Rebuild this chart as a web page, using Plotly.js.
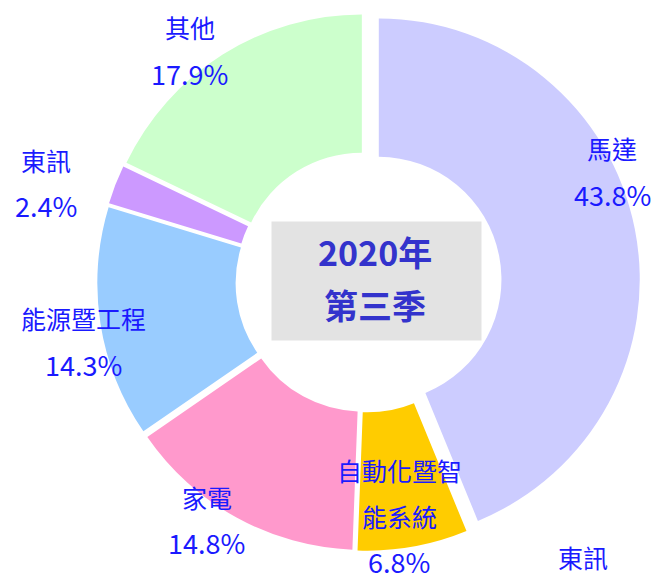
<!DOCTYPE html>
<html>
<head>
<meta charset="utf-8">
<script src="https://cdn.plot.ly/plotly-3.0.1.min.js"></script>
<style>
  html, body { margin: 0; padding: 0; background: #fff; }
  #chart { width: 658px; height: 578px; }
</style>
</head>
<body>
<div id="chart"></div>
<script>
// 2020年第三季 營收比重
var labels = ['馬達', '自動化暨智能系統', '家電', '能源暨工程', '東訊', '其他'];
var labelLines = [['馬達'], ['自動化暨智', '能系統'], ['家電'], ['能源暨工程'], ['東訊'], ['其他']];
var shares = [43.8, 6.8, 14.8, 14.3, 2.4, 17.9];
var colors = ['#ccccff', '#ffcc00', '#ff99cc', '#99ccff', '#cc99ff', '#ccffcc'];
var pulls = [0.05, 0.03, 0.03, 0.03, 0.03, 0.03];

var W = 658, H = 578;
var cx = 366, cy = 282;          // pie centre in px
var labelR = [270, 236, 286, 289, 335, 291];   // label distance from centre
var labelShift = [-13, 2, 5, -3, -4, -5];       // degrees off the slice bisector
var lineGap = 46;
var labelFont = { family: 'Noto Sans CJK TC, sans-serif', size: 25, color: '#1a1aff' };
var pctFont = { family: 'Noto Sans CJK TC, sans-serif', size: 27, color: '#1a1aff' };

function note(text, px, py, font) {
    return {
        text: text, x: px / W, y: 1 - py / H, xref: 'paper', yref: 'paper',
        xanchor: 'center', yanchor: 'middle', showarrow: false, font: font
    };
}

var trace = {
    type: 'pie',
    labels: labels,
    values: shares,
    sort: false,
    direction: 'clockwise',
    rotation: 0,
    hole: 0.47,
    pull: pulls,
    marker: { colors: colors, line: { color: '#ffffff', width: 0 } },
    textposition: 'none',
    domain: { x: [92 / W, 640 / W], y: [22 / H, 570 / H] },
    hoverinfo: 'none'
};

var annotations = [];

// grey box + title in the hole
var box = note(' ', 376.5, 281, { size: 10 });
box.bgcolor = '#e3e3e3';
box.width = 209;
box.height = 118;
box.borderpad = 0;
annotations.push(box);
var titleFont = { family: 'Noto Sans CJK TC, sans-serif', size: 34, color: '#3333cc' };
annotations.push(note('<b>2020年</b>', 375, 251, titleFont));
annotations.push(note('<b>第三季</b>', 375, 304, titleFont));

// slice labels
var total = shares.reduce(function (a, b) { return a + b; }, 0);
var cum = 0;
shares.forEach(function (v, i) {
    var mid = (cum + v / 2) / total * 360 + labelShift[i];
    cum += v;
    var rad = mid * Math.PI / 180;
    var ax = cx + labelR[i] * Math.sin(rad);
    var ay = cy - labelR[i] * Math.cos(rad);
    var lines = labelLines[i];
    var n = lines.length + 1;
    var top = ay - (n - 1) * lineGap / 2;
    lines.forEach(function (t, j) {
        annotations.push(note(t, ax, top + j * lineGap, labelFont));
    });
    annotations.push(note(v.toFixed(1) + '%', ax, top + lines.length * lineGap, pctFont));
});

// stray label at the lower right edge
annotations.push(note('東訊', 583, 557, labelFont));

var layout = {
    width: W,
    height: H,
    showlegend: false,
    margin: { l: 0, r: 0, t: 0, b: 0 },
    paper_bgcolor: '#ffffff',
    annotations: annotations
};

Plotly.newPlot('chart', [trace], layout, { displayModeBar: false });
</script>
</body>
</html>
